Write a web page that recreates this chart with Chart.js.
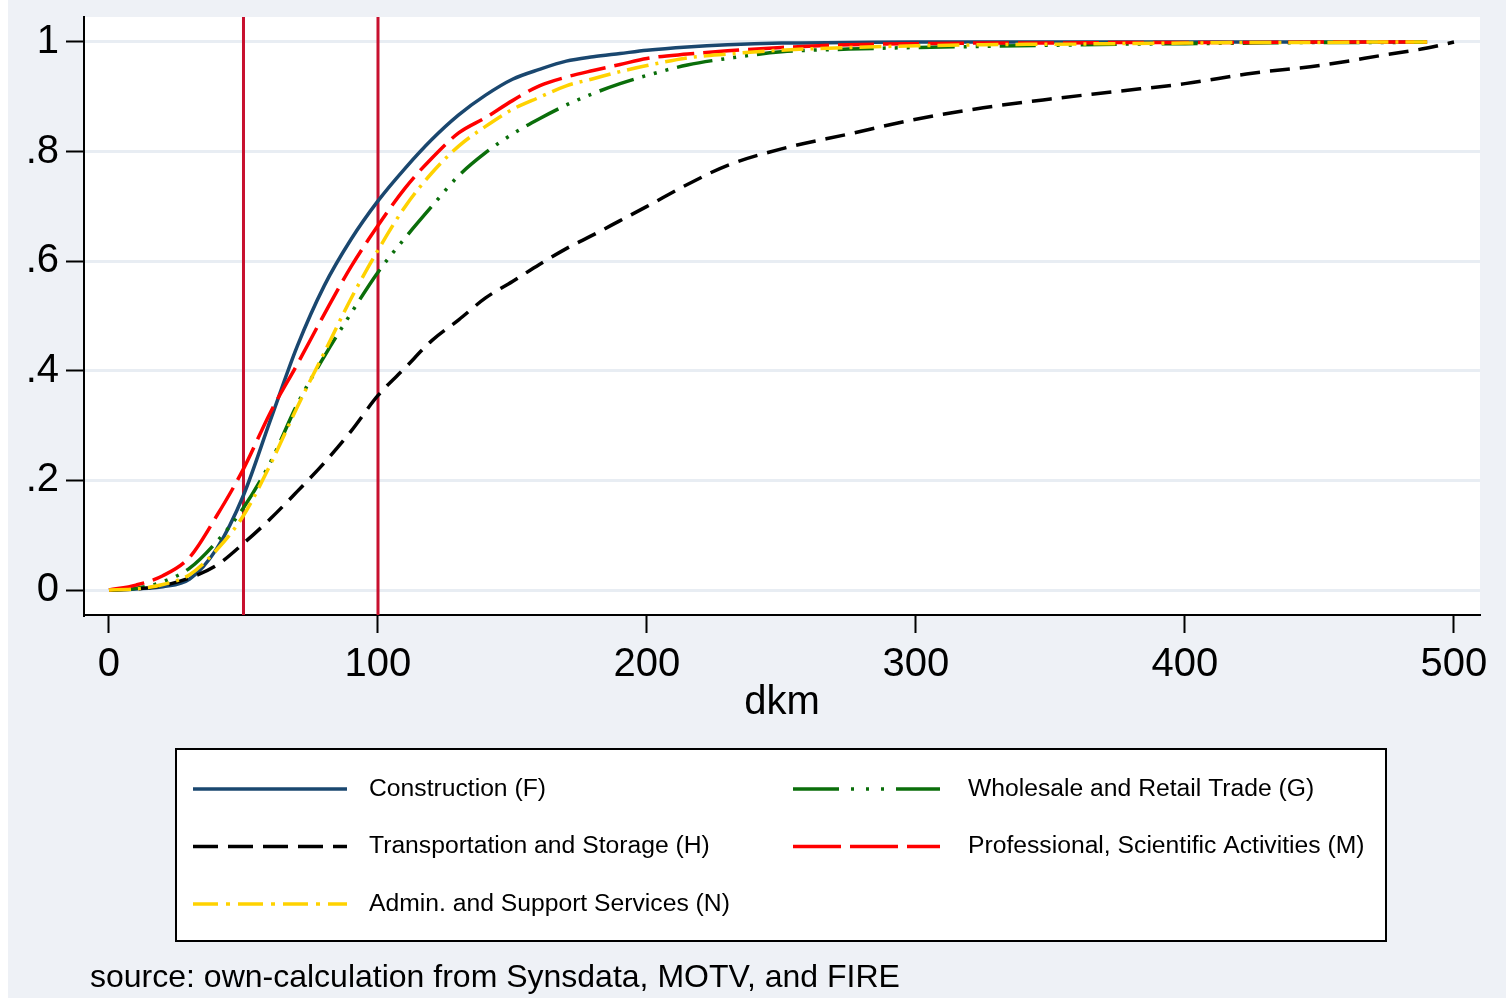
<!DOCTYPE html>
<html>
<head>
<meta charset="utf-8">
<script src="https://cdn.jsdelivr.net/npm/chart.js@4"></script>
<style>
  html, body { margin: 0; padding: 0; background: #fff; }
  canvas { display: block; }
</style>
</head>
<body>
<canvas id="chart" width="1506" height="998"></canvas>
<script>
// distance (dkm) at which the cumulative shares were read
const dkm = [0, 10, 20, 30, 40, 50, 60, 70, 80, 90, 100, 110, 120, 130, 140, 150, 160, 170, 180, 190,
  200, 215, 230, 250, 275, 300, 325, 350, 375, 400, 425, 450, 475, 490, 500];

const construction = [0, 0.002, 0.006, 0.02, 0.075, 0.173, 0.31, 0.445, 0.555, 0.64,
  0.71, 0.769, 0.822, 0.867, 0.903, 0.932, 0.95, 0.965, 0.973, 0.979,
  0.985, 0.991, 0.995, 0.998, 0.999, 1, 1, 1, 1, 1, 1, 1, 1, 1, null];
const wholesale = [0, 0.003, 0.015, 0.04, 0.088, 0.15, 0.233, 0.339, 0.426, 0.505,
  0.58, 0.642, 0.70, 0.756, 0.798, 0.832, 0.86, 0.885, 0.906, 0.924,
  0.939, 0.958, 0.97, 0.982, 0.987, 0.99, 0.992, 0.994, 0.996, 0.997, 0.998, 0.999, 0.999, 1, null];
const transport = [0, 0.002, 0.008, 0.022, 0.045, 0.085, 0.13, 0.18, 0.232, 0.29,
  0.355, 0.405, 0.455, 0.493, 0.533, 0.563, 0.594, 0.623, 0.648, 0.674,
  0.70, 0.74, 0.775, 0.805, 0.832, 0.859, 0.88, 0.896, 0.91, 0.924, 0.943, 0.957, 0.977, 0.989, 1];
const professional = [0, 0.009, 0.026, 0.06, 0.135, 0.221, 0.324, 0.412, 0.503, 0.59,
  0.665, 0.733, 0.788, 0.834, 0.862, 0.893, 0.92, 0.936, 0.948, 0.959,
  0.97, 0.978, 0.984, 0.99, 0.995, 0.997, 0.998, 0.998, 0.999, 0.999, 0.999, 1, 1, 1, null];
const admin = [0, 0.002, 0.01, 0.028, 0.073, 0.136, 0.229, 0.334, 0.433, 0.532,
  0.62, 0.699, 0.761, 0.81, 0.846, 0.877, 0.899, 0.92, 0.933, 0.946,
  0.957, 0.971, 0.978, 0.985, 0.99, 0.993, 0.995, 0.996, 0.997, 0.998, 0.999, 0.999, 1, 1, null];

const xTicks = [0, 100, 200, 300, 400, 500];
const yTicks = [0, 0.2, 0.4, 0.6, 0.8, 1];
const yTickLabels = ["0", ".2", ".4", ".6", ".8", "1"];
const refLines = [50, 100];

const legendLabels = [
  "Construction (F)", "Wholesale and Retail Trade (G)",
  "Transportation and Storage (H)", "Professional, Scientific Activities (M)",
  "Admin. and Support Services (N)"
];
const sourceNote = "source: own-calculation from Synsdata, MOTV, and FIRE";

const FONT = '"Liberation Sans", Arial, sans-serif';
Chart.defaults.font.family = FONT;
Chart.defaults.color = "#000";

const pts = ys => dkm.map((x, i) => ({ x, y: ys[i] }));

// legendDash: the key samples use longer patterns than the curves
function line(label, ys, color, dash, legendDash) {
  return {
    label, data: pts(ys), borderColor: color, borderDash: dash, legendDash,
    borderWidth: 3.5, pointRadius: 0, fill: false, cubicInterpolationMode: "monotone"
  };
}

// first dataset ends up on top
const datasets = [
  line("Admin. and Support Services (N)", admin, "#ffd200", [22, 7, 3, 7], [25, 8, 4, 8]),
  line("Professional, Scientific Activities (M)", professional, "#ff0000", [36, 9], [48, 9]),
  line("Transportation and Storage (H)", transport, "#000000", [20, 10], [25, 10]),
  line("Wholesale and Retail Trade (G)", wholesale, "#0a6e0a", [36, 9, 3, 9, 3, 9, 3, 9], [46, 12, 3, 12, 3, 12, 3, 12]),
  line("Construction (F)", construction, "#1a476f", [], [])
];

const background = {
  id: "background",
  beforeDraw(chart) {
    const { ctx, chartArea: a } = chart;
    ctx.save();
    ctx.fillStyle = "#ffffff";
    ctx.fillRect(0, 0, chart.width, chart.height);
    ctx.fillStyle = "#eef1f6";
    ctx.fillRect(8, 0, chart.width - 8, chart.height);
    ctx.fillStyle = "#ffffff";
    ctx.fillRect(a.left, a.top, a.right - a.left, a.bottom - a.top);
    ctx.restore();
  }
};

const xlines = {
  id: "xlines",
  beforeDatasetsDraw(chart) {
    const { ctx, chartArea: a, scales } = chart;
    ctx.save();
    ctx.strokeStyle = "#c8102e";
    ctx.lineWidth = 3;
    refLines.forEach(v => {
      const x = scales.x.getPixelForValue(v);
      ctx.beginPath();
      ctx.moveTo(x, a.top);
      ctx.lineTo(x, a.bottom);
      ctx.stroke();
    });
    ctx.restore();
  }
};

const legendBox = {
  id: "legendBox",
  afterDraw(chart) {
    const ctx = chart.ctx;
    ctx.save();
    ctx.fillStyle = "#fff";
    ctx.fillRect(176, 749, 1210, 192);
    ctx.strokeStyle = "#000";
    ctx.lineWidth = 2;
    ctx.strokeRect(176, 749, 1210, 192);
    ctx.font = "24.7px " + FONT;
    ctx.textBaseline = "middle";
    legendLabels.forEach((label, i) => {
      const ds = chart.data.datasets.find(d => d.label === label);
      const col = i % 2, row = Math.floor(i / 2);
      const x0 = col ? 793 : 193, x1 = col ? 940 : 347, tx = col ? 968 : 369;
      const y = 789 + row * 57.5;
      ctx.beginPath();
      ctx.setLineDash(ds.legendDash);
      ctx.strokeStyle = ds.borderColor;
      ctx.lineWidth = 3.5;
      ctx.moveTo(x0, y);
      ctx.lineTo(x1, y);
      ctx.stroke();
      ctx.setLineDash([]);
      ctx.fillStyle = "#000";
      ctx.fillText(label, tx, y);
    });
    ctx.font = "32px " + FONT;
    ctx.fillText(sourceNote, 90, 978);
    ctx.restore();
  }
};

new Chart(document.getElementById("chart"), {
  type: "line",
  data: { datasets },
  plugins: [background, xlines, legendBox],
  options: {
    responsive: false,
    animation: false,
    layout: { autoPadding: false, padding: { left: 0, top: 17, right: 26, bottom: 271 } },
    plugins: { legend: { display: false }, tooltip: { enabled: false } },
    scales: {
      x: {
        type: "linear",
        min: -9.29,
        max: 509.67,
        afterBuildTicks: s => { s.ticks = xTicks.map(value => ({ value })); },
        afterFit: s => { s.height = 112; s.paddingLeft = 0; s.paddingRight = 0; },
        ticks: { font: { size: 40 }, padding: 8, maxRotation: 0 },
        grid: { drawOnChartArea: false, drawTicks: true, tickLength: 18, tickColor: "#000", tickWidth: 2 },
        border: { display: true, color: "#000", width: 2 },
        title: { display: true, text: "dkm", font: { size: 40 }, padding: 0 }
      },
      y: {
        min: -0.0456,
        max: 1.0456,
        afterBuildTicks: s => { s.ticks = yTicks.map(value => ({ value })); },
        afterFit: s => { s.width = 84; s.paddingTop = 0; s.paddingBottom = 0; },
        ticks: { font: { size: 40 }, padding: 7, callback: (v, i) => yTickLabels[i] },
        grid: { color: "#e8edf3", lineWidth: 3, drawTicks: true, tickLength: 18, tickColor: "#000", tickWidth: 2 },
        border: { display: true, color: "#000", width: 2 }
      }
    }
  }
});
</script>
</body>
</html>
